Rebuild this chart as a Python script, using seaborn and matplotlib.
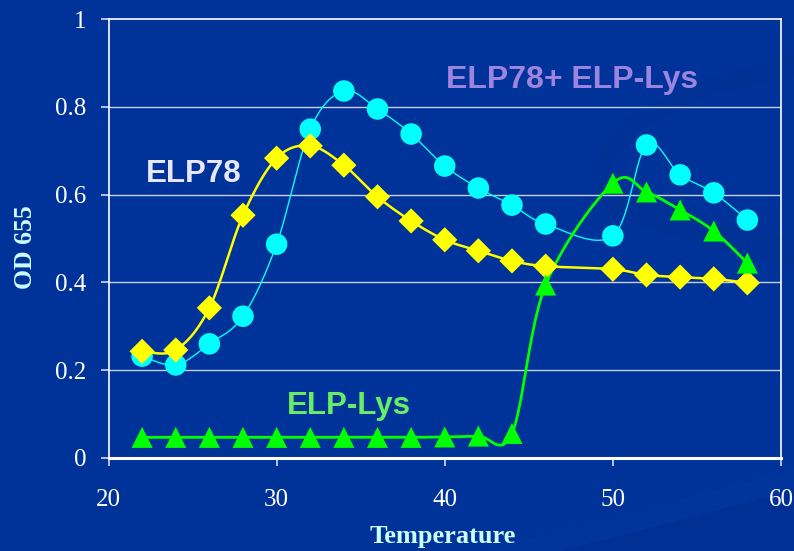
import numpy as np
import pandas as pd
import matplotlib
matplotlib.use("Agg")
import matplotlib.pyplot as plt
from matplotlib.patches import Polygon
import seaborn as sns

# Turbidity (OD 655) versus temperature for the three samples
temp_mix = [22, 24, 26, 28, 30, 32, 34, 36, 38, 40, 42, 44, 46, 50, 52, 54, 56, 58]
od_mix = [0.232, 0.212, 0.260, 0.323, 0.487, 0.749, 0.836, 0.795, 0.738, 0.665,
          0.615, 0.576, 0.533, 0.506, 0.713, 0.645, 0.604, 0.542]

temp_elp78 = [22, 24, 26, 28, 30, 32, 34, 36, 38, 40, 42, 44, 46, 50, 52, 54, 56, 58]
od_elp78 = [0.243, 0.246, 0.342, 0.553, 0.683, 0.711, 0.667, 0.595, 0.540, 0.497,
            0.472, 0.449, 0.437, 0.430, 0.417, 0.412, 0.408, 0.399]

temp_lys = [22, 24, 26, 28, 30, 32, 34, 36, 38, 40, 42, 44, 46, 50, 52, 54, 56, 58]
od_lys = [0.047, 0.047, 0.047, 0.047, 0.047, 0.047, 0.047, 0.047, 0.047, 0.048,
          0.050, 0.056, 0.394, 0.626, 0.606, 0.565, 0.517, 0.444]

x_ticks = [20, 30, 40, 50, 60]
y_ticks = [0, 0.2, 0.4, 0.6, 0.8, 1.0]
y_tick_labels = ["0", "0.2", "0.4", "0.6", "0.8", "1"]

BG = "#003399"

sns.set_theme(style="white")
plt.rcParams["font.family"] = ["Liberation Serif", "DejaVu Serif"]

fig = plt.figure(figsize=(7.94, 5.51), dpi=100, facecolor=BG)

# decorative background swoosh
bgax = fig.add_axes([0, 0, 1, 1], zorder=-10)
bgax.set_xlim(0, 794)
bgax.set_ylim(551, 0)
bgax.axis("off")
outer = [(794, 55), (700, 80), (620, 120), (588, 170), (610, 215), (700, 245), (794, 265)]
inner = [(794, 240), (710, 222), (640, 195), (612, 165), (640, 130), (710, 95), (794, 78)]
bgax.add_patch(Polygon(outer + inner, closed=True, facecolor="#002a85", alpha=0.22,
                       edgecolor="none"))
bgax.add_patch(Polygon([(794, 490), (794, 551), (560, 551)], closed=True,
                       facecolor="#002c88", alpha=0.35, edgecolor="none"))
bgax.add_patch(Polygon([(794, 470), (794, 490), (560, 551), (480, 551)], closed=True,
                       facecolor="#0a3ea8", alpha=0.25, edgecolor="none"))

ax = fig.add_axes([108.5 / 794, 1 - 458 / 551, (781 - 108.5) / 794, (458 - 19) / 551])
ax.set_facecolor("none")
ax.set_xlim(20, 60)
ax.set_ylim(0, 1)

# pixel scale of the axes, used to smooth curves in screen proportions
sx = (781 - 108.5) / 40.0
sy = 439.0


def smooth(xs, ys, n=24):
    """Bezier smoothing through every point (Catmull-Rom style tangents)."""
    p = np.column_stack([np.asarray(xs, float) * sx, np.asarray(ys, float) * sy])
    pts = []
    m = len(p)
    for i in range(m - 1):
        p0 = p[max(i - 1, 0)]
        p1 = p[i]
        p2 = p[i + 1]
        p3 = p[min(i + 2, m - 1)]
        c1 = p1 + (p2 - p0) / 6.0
        c2 = p2 - (p3 - p1) / 6.0
        t = np.linspace(0, 1, n, endpoint=(i == m - 2))[:, None]
        b = ((1 - t) ** 3) * p1 + 3 * ((1 - t) ** 2) * t * c1 + 3 * (1 - t) * t ** 2 * c2 + t ** 3 * p2
        pts.append(b)
    pts = np.vstack(pts)
    return pd.DataFrame({"x": pts[:, 0] / sx, "y": pts[:, 1] / sy})


# grid lines
for yv in [0.2, 0.4, 0.6, 0.8]:
    ax.axhline(yv, color="#c8d0e8", lw=1.0, zorder=1)

series = [
    (temp_mix, od_mix, "#00ffff", 1.0, "o", 240),
    (temp_elp78, od_elp78, "#ffff00", 1.8, "D", 165),
    (temp_lys, od_lys, "#00ff00", 2.0, "^", 230),
]
for i, (xs, ys, col, lw, mk, ms) in enumerate(series):
    curve = smooth(xs, ys)
    sns.lineplot(data=curve, x="x", y="y", sort=False, estimator=None, color=col,
                 lw=lw, ax=ax, zorder=3 + i)
    pts = pd.DataFrame({"x": xs, "y": ys})
    sns.scatterplot(data=pts, x="x", y="y", marker=mk, s=ms, color=col,
                    edgecolor="none", linewidth=0, ax=ax, zorder=6 + i)

# series annotations
lab_font = ["Liberation Sans", "DejaVu Sans"]
ax.text(22.2, 0.647, "ELP78", color="#e8e8fa", fontsize=22.5, fontweight="bold",
        family=lab_font, va="center", ha="left", zorder=10)
ax.text(40.1, 0.861, "ELP78+ ELP-Lys", color="#9d84de", fontsize=23, fontweight="bold",
        family=lab_font, va="center", ha="left", zorder=10)
ax.text(30.6, 0.118, "ELP-Lys", color="#66ee66", fontsize=22.5, fontweight="bold",
        family=lab_font, va="center", ha="left", zorder=10)

# frame
for side in ["left", "top", "right"]:
    ax.spines[side].set_color("white")
    ax.spines[side].set_linewidth(1.2)
ax.spines["bottom"].set_color("white")
ax.spines["bottom"].set_linewidth(2.2)

ax.set_xticks(x_ticks)
ax.set_xticklabels([str(v) for v in x_ticks])
ax.set_yticks(y_ticks)
ax.set_yticklabels(y_tick_labels)
ax.tick_params(axis="both", which="major", direction="out", length=6, width=1.2,
               color="#d0d8ee", labelcolor="white", labelsize=18, bottom=True, left=True)
ax.tick_params(axis="x", pad=16)
ax.tick_params(axis="y", pad=10)

ax.set_xlabel("")
ax.set_ylabel("")
fig.text(25 / 794, 1 - 247 / 551, "OD 655", rotation=90, color="#ccffff", fontsize=18.5,
         fontweight="bold", ha="center", va="center")
fig.text(443 / 794, 1 - 537 / 551, "Temperature", color="#ccffff", fontsize=19,
         fontweight="bold", ha="center", va="center")

fig.savefig("out.png", dpi=100, facecolor=BG)
